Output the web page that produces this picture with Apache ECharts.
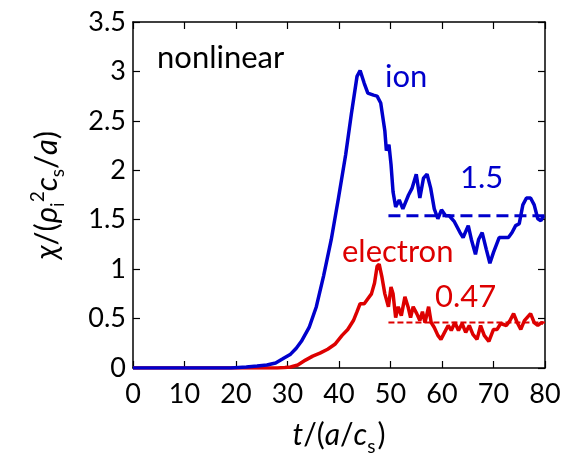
<!DOCTYPE html>
<html><head><meta charset="utf-8">
<script src="https://cdn.jsdelivr.net/npm/echarts@6/dist/echarts.min.js"></script>
<style>html,body{margin:0;padding:0;background:#fff}#c{width:578px;height:459px}</style>
</head><body><div id="c"></div>
<script>
var xTicks = [0,10,20,30,40,50,60,70,80];
var yTicks = [0,0.5,1,1.5,2,2.5,3,3.5];
var ionT   = [0,10,19,22,24.1,26,27.7,29,30.6,31.7,32.7,34.2,35.6,37,38.5,39.9,41.3,42.4,43.5,44.1,44.9,45.6,46.7,47.4,48.1,48.9,49.2,49.7,50.1,50.5,51,51.7,52.4,53.5,54.2,55,55.7,56.4,57.1,57.8,58.5,59.2,59.9,60.7,61.4,62.4,63.5,64.1,65.1,65.7,66.5,67.1,67.8,68.6,69.3,70,71.1,71.8,72.9,73.6,74.3,75,75.7,76.4,77.2,77.9,78.6,79.2,79.7];
var ionChi = [0,0,0,0.01,0.02,0.03,0.05,0.09,0.14,0.20,0.27,0.41,0.62,0.93,1.30,1.72,2.16,2.57,2.95,3.01,2.88,2.78,2.76,2.75,2.68,2.40,2.20,2.26,2.06,1.78,1.63,1.70,1.61,1.75,1.82,1.96,1.72,1.92,1.96,1.82,1.61,1.51,1.60,1.54,1.54,1.48,1.37,1.32,1.44,1.30,1.15,1.30,1.37,1.20,1.06,1.17,1.32,1.32,1.32,1.37,1.44,1.46,1.65,1.72,1.72,1.65,1.51,1.49,1.54];
var elecT   = [0,10,20,28,29.5,30.6,32,33.5,34.9,36.3,37.8,39.2,40.6,41.7,42.8,43.5,44.1,44.9,45.6,46.3,46.9,47.4,47.8,48.3,48.9,49.6,50.1,50.5,51,51.5,52.1,52.8,53.4,53.9,54.4,55.1,55.7,56.2,56.7,57.4,57.9,58.5,59.2,59.8,60.5,61.2,61.8,62.5,63.2,63.9,64.6,65.3,66,66.8,67.5,68.2,69.1,70,70.7,71.4,72.5,73.2,73.9,74.6,75.3,76,77.2,77.9,78.6,79.3,79.7];
var elecChi = [0,0,0,0,0.004,0.01,0.03,0.08,0.12,0.15,0.19,0.24,0.33,0.39,0.48,0.57,0.65,0.65,0.70,0.75,0.86,1.03,1.05,0.93,0.75,0.62,0.82,0.75,0.51,0.62,0.53,0.72,0.62,0.51,0.62,0.55,0.48,0.57,0.46,0.62,0.46,0.41,0.33,0.29,0.36,0.43,0.38,0.46,0.38,0.45,0.36,0.43,0.34,0.29,0.43,0.33,0.27,0.39,0.39,0.45,0.43,0.48,0.55,0.46,0.39,0.48,0.55,0.46,0.43,0.46,0.45];
var ionMeanT = [49.6,80];   var ionMean = 1.54;
var elecMeanT = [49.6,80];  var elecMean = 0.46;
var ionLabel = '1.5', elecLabel = '0.47';

var BLUE = '#0000cc', RED = '#dd0000';
var FONT = 'Lato';
function pairs(t, v){ return t.map(function(x,i){ return [x, Array.isArray(v) ? v[i] : v]; }); }

var chart = echarts.init(document.getElementById('c'));
var axisCommon = {
  axisLine:{show:true, onZero:false, lineStyle:{color:'#000', width:1.5}},
  axisTick:{show:true, inside:true, length:7, lineStyle:{color:'#000', width:1.2}},
  splitLine:{show:false}
};
function txt(s, x, y, color){
  return {type:'text', x:x, y:y, style:{text:s, fill:color, font:'31px '+FONT, align:'left', verticalAlign:'middle'}};
}
chart.setOption({
  animation:false,
  textStyle:{fontFamily:FONT},
  grid:{left:133, right:33, top:22, bottom:91, containLabel:false, outerBoundsMode:'none'},
  xAxis:[
    Object.assign({type:'value', min:0, max:80, interval:10, position:'bottom',
      axisLabel:{color:'#000', fontSize:27, fontFamily:FONT, margin:13},
      name:'{i|t}{n|/(}{i|a}{n|/}{i|c}{s|s}{n|)}', nameLocation:'middle', nameGap:47,
      nameTextStyle:{rich:{
        i:{fontFamily:FONT, fontStyle:'italic', fontSize:30, color:'#000'},
        n:{fontFamily:FONT, fontSize:30, color:'#000'},
        s:{fontFamily:FONT, fontSize:19, color:'#000', padding:[22,2,0,0]}
      }}
    }, axisCommon),
    Object.assign({type:'value', min:0, max:80, interval:10, position:'top', axisLabel:{show:false}}, axisCommon)
  ],
  yAxis:[
    Object.assign({type:'value', min:0, max:3.5, interval:0.5, position:'left',
      axisLabel:{color:'#000', fontSize:27, fontFamily:FONT, margin:7},
      name:'{i|χ}{n|/(}{i|ρ}{sb|i}{sp|2}{i|c}{sb|s}{n|/}{i|a}{n|)}', nameLocation:'middle', nameGap:66, nameRotate:90,
      nameTextStyle:{rich:{
        i:{fontFamily:FONT, fontStyle:'italic', fontSize:31, color:'#000'},
        n:{fontFamily:FONT, fontSize:31, color:'#000'},
        sb:{fontFamily:FONT, fontSize:19, color:'#000', padding:[22,0,0,0]},
        sp:{fontFamily:FONT, fontSize:19, color:'#000', padding:[0,0,18,0]}
      }}
    }, axisCommon),
    Object.assign({type:'value', min:0, max:3.5, interval:0.5, position:'right', axisLabel:{show:false}}, axisCommon)
  ],
  series:[
    {type:'line', data:pairs(elecT, elecChi), showSymbol:false, lineStyle:{color:RED, width:3.5}, z:3},
    {type:'line', data:pairs(ionT, ionChi), showSymbol:false, lineStyle:{color:BLUE, width:3.5}, z:4},
    {type:'line', data:pairs(ionMeanT, ionMean), showSymbol:false, lineStyle:{color:BLUE, width:3, type:[12,6]}, z:5},
    {type:'line', data:pairs(elecMeanT, elecMean), showSymbol:false, lineStyle:{color:RED, width:2, type:[6,3]}, z:5}
  ],
  graphic:[
    txt('nonlinear', 157, 58, '#000'),
    txt('ion', 385, 77, BLUE),
    txt(ionLabel, 460, 178, BLUE),
    txt('electron', 342, 252, RED),
    txt(elecLabel, 435, 297, RED)
  ]
});
</script></body></html>
